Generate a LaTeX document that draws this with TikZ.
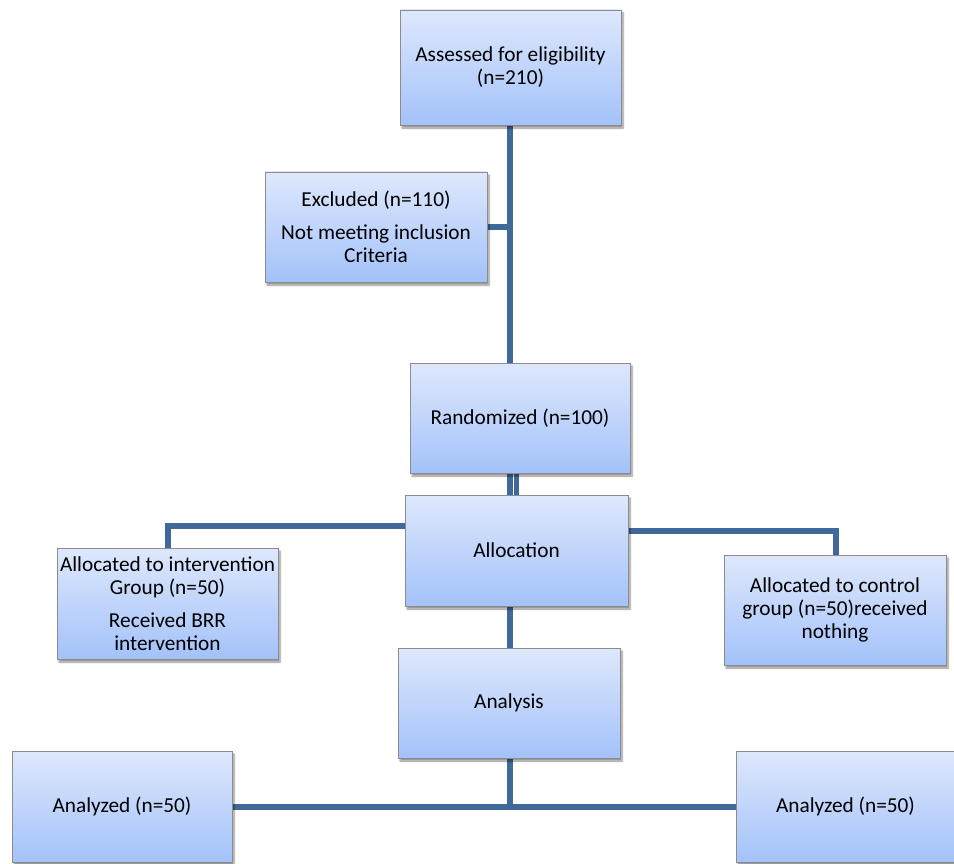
\documentclass[tikz,border=0pt]{standalone}
\usepackage{fontspec}
\setmainfont{Carlito}
\usetikzlibrary{shadows.blur,backgrounds}
\definecolor{linkblue}{RGB}{64,104,152}
\definecolor{boxtop}{RGB}{222,232,252}
\definecolor{boxbot}{RGB}{163,194,250}
\definecolor{boxedge}{RGB}{140,140,140}
\tikzset{
  flowbox/.style={draw=boxedge, line width=0.8pt, top color=boxtop, bottom color=boxbot,
    blur shadow={shadow xshift=2pt, shadow yshift=-3pt, shadow blur steps=6, shadow opacity=45},
    align=center, inner sep=2pt, font=\fontsize{21.3}{23}\selectfont, text=black},
  link/.style={draw=linkblue, line width=5.5pt}
}
\begin{document}
\begin{tikzpicture}[x=1pt,y=-1pt]
\useasboundingbox (0,0) rectangle (954,864);
\node[flowbox, minimum width=221pt, minimum height=115pt] (assess) at (510.5,67.5) {Assessed for eligibility\\(n=210)};
\node[flowbox, minimum width=222pt, minimum height=110pt] (excl) at (376,227) {Excluded (n=110)\\[10pt]Not meeting inclusion\\Criteria};
\node[flowbox, minimum width=220pt, minimum height=110pt] (rand) at (520,418) {Randomized (n=100)};
\node[flowbox, minimum width=223pt, minimum height=111pt] (alloc) at (516.5,550.5) {Allocation};
\node[flowbox, minimum width=221pt, minimum height=111pt] (interv) at (167.5,603.5) {Allocated to intervention\\Group (n=50)\\[10pt]Received BRR\\intervention};
\node[flowbox, minimum width=222pt, minimum height=110pt] (ctrl) at (835,610) {Allocated to control\\group (n=50)received\\nothing};
\node[flowbox, minimum width=222pt, minimum height=110pt] (analysis) at (509,703) {Analysis};
\node[flowbox, minimum width=220pt, minimum height=111pt] (anaL) at (122,806.5) {Analyzed (n=50)};
\node[flowbox, minimum width=219pt, minimum height=111pt] (anaR) at (845.5,806.5) {Analyzed (n=50)};
\coordinate (trunk) at (510,0);
\coordinate (dbl) at (516.7,0);
\coordinate (lcorner) at (168,526);
\coordinate (rcorner) at (836,531);
\coordinate (join) at (510,807);
\begin{scope}[on background layer]
\draw[link] (assess.south -| trunk) -- (rand.north -| trunk);
\draw[link] (excl.east) -- (excl.east -| trunk);
\draw[link] (rand.south -| trunk) -- (alloc.north -| trunk);
\draw[link] (rand.south -| dbl) -- (alloc.north -| dbl);
\draw[link] (alloc.west |- lcorner) -- (lcorner) -- (interv.north -| lcorner);
\draw[link] (alloc.east |- rcorner) -- (rcorner) -- (ctrl.north -| rcorner);
\draw[link] (alloc.south -| trunk) -- (analysis.north -| trunk);
\draw[link] (analysis.south -| trunk) -- (join);
\draw[link] (anaL.east |- join) -- (anaR.west |- join);
\end{scope}
\end{tikzpicture}
\end{document}
